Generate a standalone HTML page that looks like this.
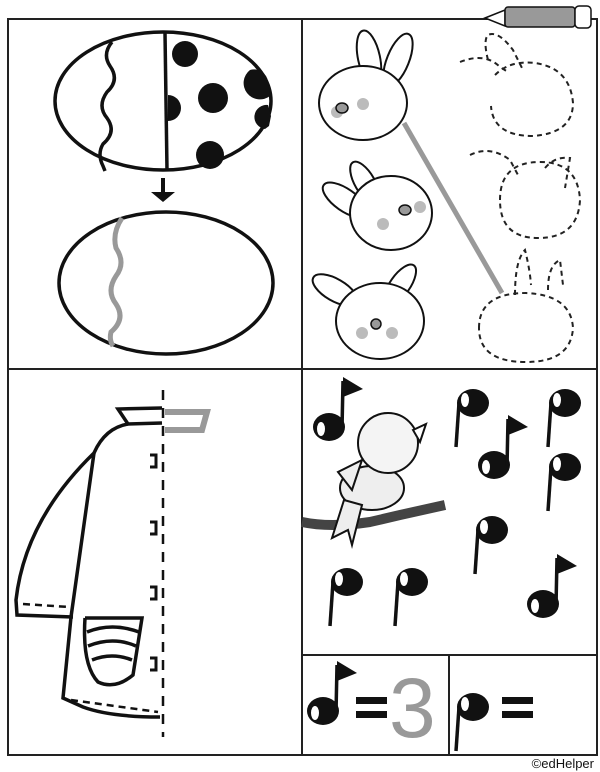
<!DOCTYPE html>
<html><head><meta charset="utf-8"><style>
html,body{margin:0;padding:0;background:#fff;width:600px;height:772px;overflow:hidden}
svg{display:block}
</style></head><body>
<svg width="600" height="772" viewBox="0 0 600 772" xmlns="http://www.w3.org/2000/svg">
<defs>
<g id="pn"><ellipse cx="0" cy="0" rx="16" ry="14" fill="#111"/><ellipse cx="-8" cy="-3" rx="4" ry="7" fill="#fff"/><line x1="-14" y1="0" x2="-17" y2="44" stroke="#111" stroke-width="3.5"/></g>
<g id="en"><ellipse cx="0" cy="0" rx="16" ry="14" fill="#111"/><ellipse cx="-8" cy="2" rx="4" ry="7" fill="#fff"/><line x1="13" y1="2" x2="14" y2="-46" stroke="#111" stroke-width="3.5"/><path d="M14,-50 L34,-38 L14,-30Z" fill="#111"/></g>
</defs>
<!-- frame -->
<g stroke="#222" stroke-width="2" fill="none">
<rect x="8" y="19" width="589" height="736"/>
<line x1="302" y1="19" x2="302" y2="755"/>
<line x1="8" y1="369" x2="597" y2="369"/>
<line x1="302" y1="655" x2="597" y2="655"/>
<line x1="449" y1="655" x2="449" y2="755"/>
</g>
<!-- pencil -->
<g stroke="#111" stroke-width="1.5">
<path d="M485,18 L505,10 L505,26Z" fill="#fff"/>
<rect x="505" y="7" width="70" height="20" rx="3" fill="#999"/>
<rect x="575" y="6" width="16" height="22" rx="4" fill="#fff"/>
</g>
<!-- top egg -->
<g stroke="#111" stroke-width="3.5" fill="none">
<ellipse cx="163" cy="101" rx="108" ry="69"/>
<line x1="165" y1="33" x2="167" y2="170"/>
<path d="M112,42 q-10,12 -2,24 q10,14 -3,26 q-10,14 0,26 q10,14 -4,26 q-6,10 0,22 l2,5"/>
</g>
<g fill="#111">
<circle cx="185" cy="54" r="13"/><path d="M250,70 a14,14 0 0 1 18,12 l2,14 a14,14 0 0 1 -20,-26Z"/><circle cx="213" cy="98" r="15"/>
<path d="M168,95 a13,13 0 0 1 0,26Z"/><path d="M268,105 a12,12 0 0 0 -3,24 l4,-3 l2,-10Z"/><circle cx="210" cy="155" r="14"/>
</g>
<path d="M163,178 L163,196" stroke="#111" stroke-width="4"/>
<path d="M151,192 L175,192 L163,202Z" fill="#111"/>
<!-- bottom egg -->
<ellipse cx="166" cy="283" rx="107" ry="71" fill="none" stroke="#111" stroke-width="3.5"/>
<path d="M122,218 q-10,15 -6,30 q10,15 0,28 q-10,15 0,28 q10,15 -5,28 q-2,8 2,14" fill="none" stroke="#999" stroke-width="5"/>
<!-- bunnies -->
<g stroke="#111" stroke-width="2" fill="#fff">
<ellipse cx="369" cy="58" rx="11" ry="28" transform="rotate(-12 369 58)"/>
<ellipse cx="398" cy="60" rx="11" ry="28" transform="rotate(22 398 60)"/>
<ellipse cx="363" cy="103" rx="44" ry="37"/>
<ellipse cx="345" cy="200" rx="26" ry="11" transform="rotate(35 345 200)"/>
<ellipse cx="365" cy="183" rx="10" ry="24" transform="rotate(-30 365 183)"/>
<ellipse cx="391" cy="213" rx="41" ry="37"/>
<ellipse cx="335" cy="290" rx="25" ry="11" transform="rotate(30 335 290)"/>
<ellipse cx="400" cy="285" rx="10" ry="24" transform="rotate(35 400 285)"/>
<ellipse cx="380" cy="321" rx="44" ry="38"/>
</g>
<g fill="#bbb"><circle cx="337" cy="112" r="6"/><circle cx="363" cy="104" r="6"/><circle cx="383" cy="224" r="6"/><circle cx="420" cy="207" r="6"/><circle cx="362" cy="333" r="6"/><circle cx="392" cy="333" r="6"/></g>
<g fill="#999" stroke="#111" stroke-width="1.5"><ellipse cx="342" cy="108" rx="6" ry="5"/><ellipse cx="405" cy="210" rx="6" ry="5"/><ellipse cx="376" cy="324" rx="5" ry="5"/></g>
<line x1="404" y1="123" x2="502" y2="293" stroke="#999" stroke-width="5"/>
<g stroke="#222" stroke-width="2" stroke-dasharray="5,4" fill="none">
<path d="M488,60 q-5,-20 0,-25 q10,-5 25,15 l10,20 M460,62 q25,-10 40,5 l8,5"/>
<path d="M495,75 q15,-15 40,-12 q35,5 38,40 q0,30 -40,33 q-40,0 -42,-30"/>
<path d="M470,155 q20,-10 40,5 l8,15 M545,168 q10,-12 25,-10 l-5,30"/>
<path d="M500,200 q0,-38 40,-38 q38,0 40,38 q-2,38 -42,38 q-38,0 -38,-38"/>
<path d="M515,295 q0,-35 10,-45 q5,20 6,35 M548,290 q0,-25 12,-30 l3,25"/>
<path d="M479,328 q0,-35 47,-35 q45,2 47,35 q-2,34 -47,34 q-47,0 -47,-34"/>
</g>
<!-- coat -->
<line x1="163" y1="390" x2="163" y2="737" stroke="#111" stroke-width="2.5" stroke-dasharray="10,8"/>
<g stroke="#111" stroke-width="3.5" fill="none">
<path d="M162,408 L118,409 L128,424 L162,423"/>
<path d="M128,424 Q105,428 94,453 Q25,520 16,600 L17,615 L73,617"/>
<path d="M94,453 L71,617 L63,698 L83,707 Q110,717 160,717"/>
<path d="M85,618 L142,618 L133,675 Q115,690 98,682 Q82,665 85,618"/>
<path d="M87,632 q25,-10 52,0 M88,646 q25,-10 48,0 M92,660 q20,-8 40,0"/>
<path d="M150,455 h6 v12 h-6 M150,522 h6 v12 h-6 M150,587 h6 v12 h-6 M150,658 h6 v12 h-6" stroke-width="3"/>
</g>
<g stroke="#111" stroke-width="2.5" stroke-dasharray="7,5"><line x1="23" y1="604" x2="69" y2="607"/><line x1="71" y1="700" x2="158" y2="712"/></g>
<path d="M165,412 L207,412 L202,430 L165,430" stroke="#999" stroke-width="6" fill="none"/>
<!-- bird -->
<path d="M302,522 Q330,528 370,522 L400,515 L445,505" stroke="#444" stroke-width="10" fill="none"/>
<g stroke="#111" stroke-width="2" fill="#eee">
<ellipse cx="372" cy="488" rx="32" ry="22"/>
<path d="M344,500 L332,538 L348,530 L352,545 L362,505Z"/>
<circle cx="388" cy="443" r="30" fill="#f4f4f4"/>
<path d="M413,430 L426,424 L420,442Z" fill="#fff"/>
<path d="M362,460 L338,472 L352,490Z"/>
</g>
<!-- notes -->
<use href="#en" x="329" y="427"/>
<use href="#pn" x="473" y="403"/>
<use href="#pn" x="565" y="403"/>
<use href="#en" x="494" y="465"/>
<use href="#pn" x="565" y="467"/>
<use href="#pn" x="492" y="530"/>
<use href="#pn" x="347" y="582"/>
<use href="#pn" x="412" y="582"/>
<use href="#en" x="543" y="604"/>
<use href="#en" x="323" y="711"/>
<use href="#pn" x="473" y="707"/>
<g fill="#111"><rect x="356" y="697" width="31" height="7"/><rect x="356" y="711" width="31" height="7"/><rect x="502" y="697" width="31" height="7"/><rect x="502" y="711" width="31" height="7"/></g>
<text x="389" y="737" font-family="Liberation Sans, sans-serif" font-size="84" fill="#999">3</text>
<text x="594" y="768" text-anchor="end" font-family="Liberation Sans, sans-serif" font-size="13" fill="#111">©edHelper</text>
</svg>
</body></html>
